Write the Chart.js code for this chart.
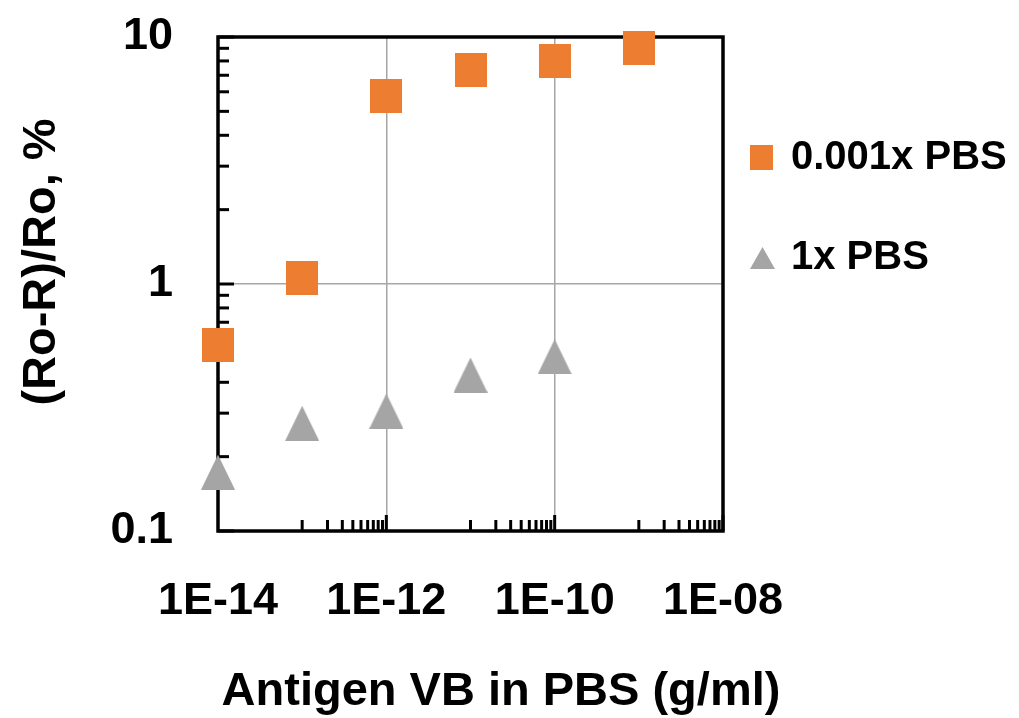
<!DOCTYPE html>
<html>
<head>
<meta charset="utf-8">
<script src="https://cdn.jsdelivr.net/npm/chart.js@4/dist/chart.umd.min.js"></script>
<style>
  html, body { margin: 0; padding: 0; background: #fff; }
  #wrap { width: 1019px; height: 718px; }
</style>
</head>
<body>
<div id="wrap"><canvas id="chart" width="1019" height="718"></canvas></div>
<script>
// concentrations (g/ml)
const concLow = [1e-14, 1e-13, 1e-12, 1e-11, 1e-10, 1e-9];
const concHigh = [1e-14, 1e-13, 1e-12, 1e-11, 1e-10];
// (Ro-R)/Ro in %
const dilutedPBS = [0.566, 1.06, 5.77, 7.35, 8.0, 9.06];
const fullPBS = [0.173, 0.273, 0.306, 0.428, 0.508];

const seriesNames = ['0.001x PBS', '1x PBS'];
const xTickValues = [1e-14, 1e-12, 1e-10, 1e-8];
const xTickLabels = ['1E-14', '1E-12', '1E-10', '1E-08'];
const yTickValues = [0.1, 1, 10];
const yTickLabels = ['0.1', '1', '10'];
const xTitle = 'Antigen VB in PBS (g/ml)';
const yTitle = '(Ro-R)/Ro, %';

const ORANGE = '#ED7D31';
const GREY = '#A5A5A5';
const FONT = '"Liberation Sans", Arial, sans-serif';

function squareMarker(w, h, color) {
  const c = document.createElement('canvas');
  c.width = w; c.height = h;
  const g = c.getContext('2d');
  g.fillStyle = color;
  g.fillRect(0, 0, w, h);
  return c;
}
function triangleMarker(w, h, color) {
  const c = document.createElement('canvas');
  c.width = w; c.height = h;
  const g = c.getContext('2d');
  g.fillStyle = color;
  g.beginPath();
  g.moveTo(w / 2, 0);
  g.lineTo(w, h);
  g.lineTo(0, h);
  g.closePath();
  g.fill();
  return c;
}

const sqBig = squareMarker(32, 34, ORANGE);
const triBig = triangleMarker(34, 35, GREY);
const sqSmall = squareMarker(23, 25, ORANGE);
const triSmall = triangleMarker(25, 22, GREY);

// frame, inward minor ticks
const framePlugin = {
  id: 'frame',
  beforeDatasetsDraw(chart) {
    const { ctx, chartArea: a, scales } = chart;
    ctx.save();
    ctx.strokeStyle = '#000';
    ctx.lineWidth = 3;
    // y ticks on left axis
    for (let e = -1; e <= 1; e++) {
      for (let m = 1; m <= 9; m++) {
        const v = m * Math.pow(10, e);
        if (v > 10) continue;
        const y = scales.y.getPixelForValue(v);
        const len = m === 1 ? 16 : 11;
        ctx.beginPath();
        ctx.moveTo(a.left, y);
        ctx.lineTo(a.left + len, y);
        ctx.stroke();
      }
    }
    // x ticks on bottom axis (major unit = 100x)
    for (let e = -14; e < -8; e += 2) {
      for (let m = 10; m <= 100; m += 10) {
        const v = m * Math.pow(10, e);
        const x = scales.x.getPixelForValue(v);
        const len = m === 100 ? 16 : 11;
        ctx.beginPath();
        ctx.moveTo(x, a.bottom);
        ctx.lineTo(x, a.bottom - len);
        ctx.stroke();
      }
    }
    ctx.lineWidth = 3.5;
    ctx.strokeRect(a.left, a.top, a.right - a.left, a.bottom - a.top);
    ctx.restore();
  },
  afterDraw(chart) {
    const { ctx } = chart;
    ctx.save();
    ctx.fillStyle = '#000';
    ctx.font = 'bold 47px ' + FONT;
    ctx.textAlign = 'center';
    ctx.textBaseline = 'middle';
    ctx.fillText(xTitle, 501, 692);
    ctx.translate(42, 262);
    ctx.rotate(-Math.PI / 2);
    ctx.fillText(yTitle, 0, 0);
    ctx.restore();

    // legend
    ctx.save();
    ctx.font = 'bold 40px ' + FONT;
    ctx.textAlign = 'left';
    ctx.textBaseline = 'middle';
    ctx.fillStyle = '#000';
    const ds = chart.data.datasets;
    ctx.drawImage(sqSmall, 750, 145);
    ctx.fillText(ds[0].label, 791, 158);
    ctx.drawImage(triSmall, 750, 247);
    ctx.fillText(ds[1].label, 791, 258);
    ctx.restore();
  }
};

new Chart(document.getElementById('chart'), {
  type: 'scatter',
  data: {
    datasets: [
      {
        label: seriesNames[0],
        data: concLow.map((x, i) => ({ x: x, y: dilutedPBS[i] })),
        pointStyle: sqBig,
        clip: false
      },
      {
        label: seriesNames[1],
        data: concHigh.map((x, i) => ({ x: x, y: fullPBS[i] })),
        pointStyle: triBig,
        clip: false
      }
    ]
  },
  options: {
    responsive: false,
    animation: false,
    layout: { padding: { left: 0, right: 296, top: 37, bottom: 0 } },
    plugins: {
      legend: { display: false },
      tooltip: { enabled: false }
    },
    scales: {
      x: {
        type: 'logarithmic',
        min: 1e-14,
        max: 1e-8,
        afterBuildTicks(scale) {
          scale.ticks = xTickValues.map(v => ({ value: v }));
        },
        afterFit(scale) {
          scale.height = 187;
          scale.paddingLeft = 0;
          scale.paddingRight = 0;
        },
        ticks: {
          autoSkip: false,
          maxRotation: 0,
          padding: 44,
          color: '#000',
          font: { family: FONT, size: 45, weight: 'bold' },
          callback: (v, i) => xTickLabels[i]
        },
        grid: {
          drawTicks: false,
          lineWidth: 1.5,
          color: c => (c.tick && (c.tick.value === 1e-12 || c.tick.value === 1e-10)) ? '#A6A6A6' : 'rgba(0,0,0,0)'
        },
        border: { display: false }
      },
      y: {
        type: 'logarithmic',
        min: 0.1,
        max: 10,
        afterBuildTicks(scale) {
          scale.ticks = yTickValues.map(v => ({ value: v }));
        },
        afterFit(scale) {
          scale.width = 218;
          scale.paddingTop = 0;
          scale.paddingBottom = 0;
        },
        ticks: {
          autoSkip: false,
          padding: 45,
          color: '#000',
          font: { family: FONT, size: 45, weight: 'bold' },
          callback: (v, i) => yTickLabels[i]
        },
        grid: {
          drawTicks: false,
          lineWidth: 1.5,
          color: c => (c.tick && c.tick.value === 1) ? '#A6A6A6' : 'rgba(0,0,0,0)'
        },
        border: { display: false }
      }
    }
  },
  plugins: [framePlugin]
});
</script>
</body>
</html>
